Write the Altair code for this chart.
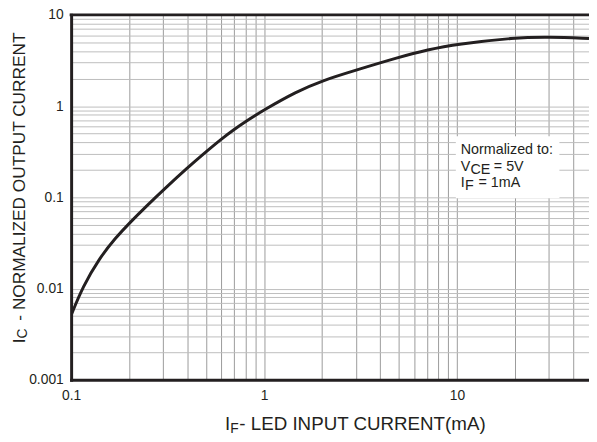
import altair as alt
import pandas as pd

# ---- data ----
led_current_mA = [0.1, 0.115, 0.14, 0.17, 0.2, 0.25, 0.3, 0.4, 0.5, 0.6, 0.7, 0.8, 1.0,
                  1.47, 2.0, 2.97, 5.0, 7.05, 10.0, 20.0, 30.0, 48.4]
normalized_output = [0.0051, 0.0105, 0.0215, 0.036, 0.052, 0.083, 0.12, 0.21, 0.315, 0.435, 0.555, 0.675, 0.91,
                     1.44, 1.9, 2.46, 3.43, 4.15, 4.77, 5.64, 5.74, 5.51]

x_grid_values = [0.1, 0.2, 0.3, 0.4, 0.5, 0.6, 0.7, 0.8, 0.9,
                 1, 2, 3, 4, 5, 6, 7, 8, 9,
                 10, 20, 30, 40]
y_grid_values = [0.001, 0.002, 0.003, 0.004, 0.005, 0.006, 0.007, 0.008, 0.009,
                 0.01, 0.02, 0.03, 0.04, 0.05, 0.06, 0.07, 0.08, 0.09,
                 0.1, 0.2, 0.3, 0.4, 0.5, 0.6, 0.7, 0.8, 0.9,
                 1, 2, 3, 4, 5, 6, 7, 8, 9, 10]

W, H = 525, 370
FONT = "Liberation Sans"
INK = "#231f20"

df = pd.DataFrame({"IF": led_current_mA, "IC": normalized_output})

decade_label = ("abs(log(datum.value)/LN10 - round(log(datum.value)/LN10)) < 0.01"
                " ? format(datum.value, '~g') : ''")

curve = alt.Chart(df).mark_line(color=INK, strokeWidth=3, interpolate="basis", clip=True).encode(
    x=alt.X("IF:Q",
            scale=alt.Scale(type="log", domain=[0.1, 48.4], nice=False),
            axis=alt.Axis(values=x_grid_values, labelExpr=decade_label, ticks=False,
                          grid=True, gridColor="#9a9a9a", gridWidth=1,
                          domainColor=INK, domainWidth=3, domainCap="square",
                          labelFont=FONT, labelFontSize=14, labelColor=INK,
                          labelPadding=9, labelOverlap=False, labelFlush=False,
                          title=None)),
    y=alt.Y("IC:Q",
            scale=alt.Scale(type="log", domain=[0.001, 10], nice=False),
            axis=alt.Axis(values=y_grid_values, labelExpr=decade_label, ticks=False,
                          grid=True, gridColor="#bdbdbd", gridWidth=1,
                          domainColor=INK, domainWidth=3, domainCap="square",
                          labelFont=FONT, labelFontSize=14, labelColor=INK,
                          labelPadding=8, labelOverlap=False, labelFlush=False,
                          title=None)),
)

one = pd.DataFrame({"k": [0]})

top_border = alt.Chart(one).mark_rule(color=INK, strokeWidth=3, strokeCap="square").encode(
    x=alt.value(0), x2=alt.value(W), y=alt.value(0))

box = alt.Chart(one).mark_rect(fill="white").encode(
    x=alt.value(390), x2=alt.value(495), y=alt.value(123), y2=alt.value(186))


def txt(s, x, y, size, angle=0):
    return alt.Chart(one).mark_text(text=s, font=FONT, fontSize=size, color=INK,
                                    align="left", baseline="alphabetic", angle=angle).encode(
        x=alt.value(x), y=alt.value(y))


notes = [
    txt("Normalized to:", 395, 141, 14.5),
    txt("V", 395, 158, 14.5),
    txt("CE", 404.8, 161.3, 14.5),
    txt("= 5V", 428.5, 158, 14.5),
    txt("I", 395, 175, 14.5),
    txt("F", 399.2, 178, 14.5),
    txt("= 1mA", 413, 175, 14.5),
    # x title
    txt("I", 156, 421.3, 19),
    txt("F", 161.2, 423.5, 14),
    txt("- LED INPUT CURRENT(mA)", 170.5, 421.3, 19),
    # y title (rotated)
    txt("I", -46.6, 333, 17.5, 270),
    txt("C", -44.6, 328, 14, 270),
    txt("- NORMALIZED OUTPUT CURRENT", -46.6, 310, 17.5, 270),
]

chart = alt.layer(curve, top_border, box, *notes).properties(
    width=W, height=H,
    autosize=alt.AutoSizeParams(type="none"),
    padding={"left": 64, "top": 4, "right": 0, "bottom": 55},
    background="white",
).configure_view(stroke=None)

chart.save("out.html", embed_options={"renderer": "svg", "actions": False})
